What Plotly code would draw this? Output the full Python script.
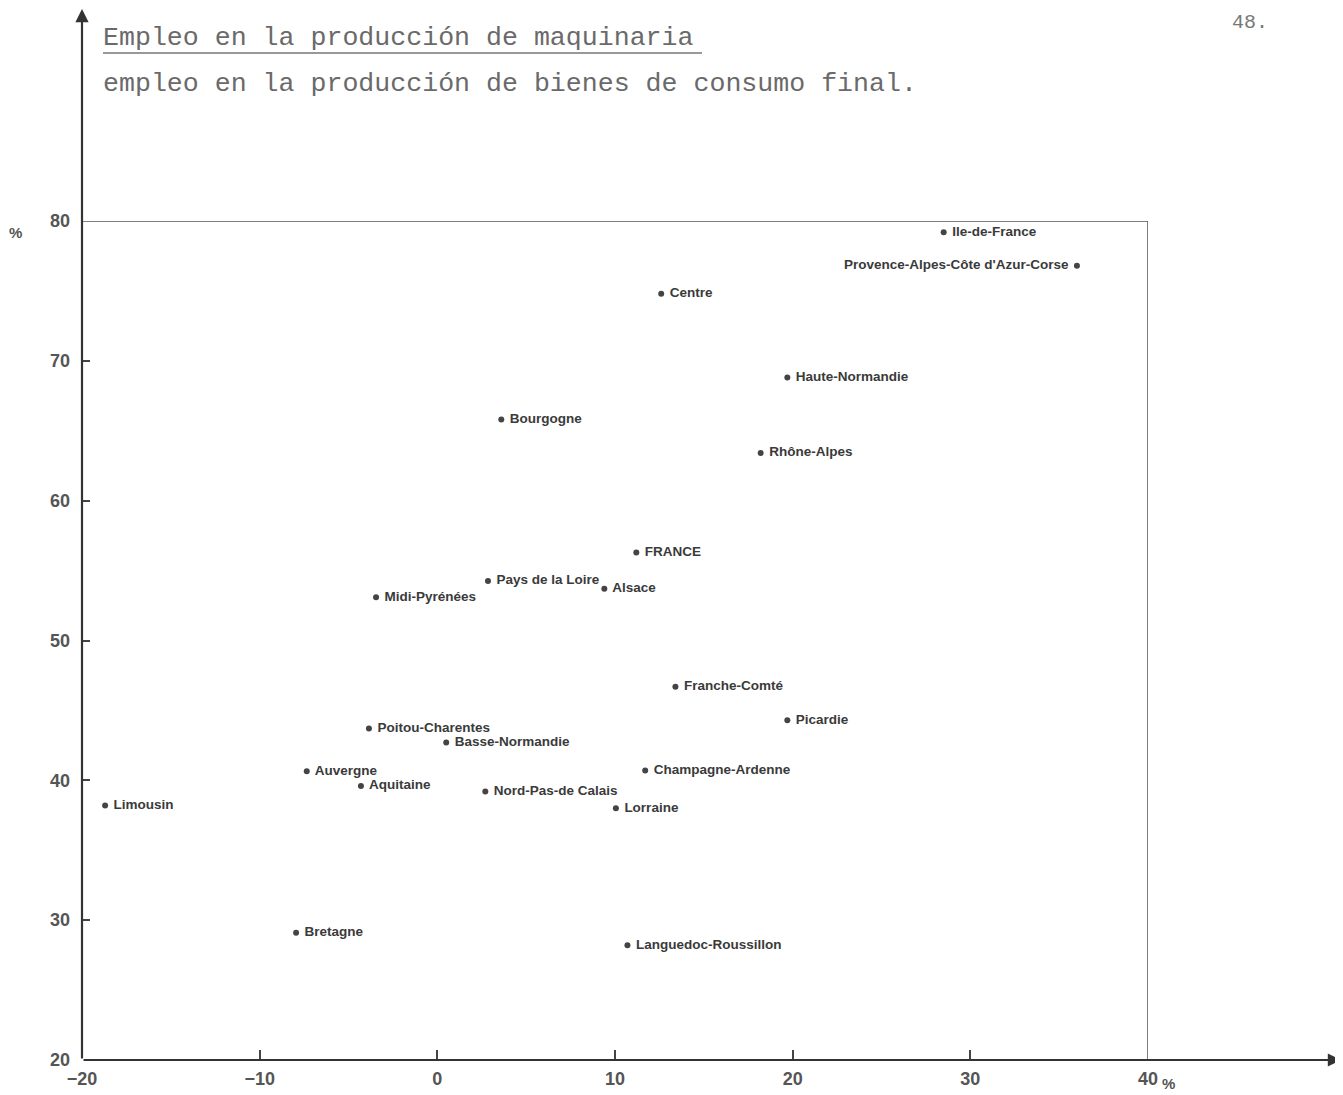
import plotly.graph_objects as go

# ---- data ----
regions = [
    "Ile-de-France", "Provence-Alpes-Côte d'Azur-Corse", "Centre", "Haute-Normandie",
    "Bourgogne", "Rhône-Alpes", "FRANCE", "Pays de la Loire", "Alsace", "Midi-Pyrénées",
    "Franche-Comté", "Picardie", "Poitou-Charentes", "Basse-Normandie", "Auvergne",
    "Champagne-Ardenne", "Aquitaine", "Limousin", "Nord-Pas-de Calais", "Lorraine",
    "Bretagne", "Languedoc-Roussillon",
]
x_vals = [28.5, 36.0, 12.6, 19.7, 3.6, 18.2, 11.2, 2.85, 9.4, -3.45,
          13.4, 19.7, -3.85, 0.5, -7.35, 11.7, -4.3, -18.7, 2.7, 10.05,
          -7.95, 10.7]
y_vals = [79.2, 76.8, 74.8, 68.8, 65.8, 63.4, 56.3, 54.25, 53.7, 53.1,
          46.7, 44.3, 43.7, 42.7, 40.65, 40.7, 39.6, 38.2, 39.2, 38.0,
          29.1, 28.2]

x_ticks = [-20, -10, 0, 10, 20, 30, 40]
x_tick_text = ["\u221220", "\u221210", "0", "10", "20", "30", "40"]
y_ticks = [20, 30, 40, 50, 60, 70, 80]

title1 = "Empleo en la producción de maquinaria"
title2 = "empleo en la producción de bienes de consumo final."
page_no = "48."

# ---- layout helpers (page pixel -> paper); page body has an 8px margin ----
OFF = 8
PAGE_W, PAGE_H = 1343, 1095
W, H = PAGE_W - OFF, PAGE_H - OFF
L, R, T, B = 82 - OFF, PAGE_W - 1148, 221 - OFF, PAGE_H - 1060
PW, PH = W - L - R, H - T - B


def px(xp):
    return (xp - 82) / PW


def py(yp):
    return (1060 - yp) / PH


positions = ["middle left" if r.startswith("Provence") else "middle right" for r in regions]
labels = [" " + r if p == "middle right" else r + " " for r, p in zip(regions, positions)]

fig = go.Figure()
fig.add_trace(go.Scatter(
    x=x_vals, y=y_vals, mode="markers+text",
    text=labels, textposition=positions,
    marker=dict(size=6, color="#444"),
    textfont=dict(family="Liberation Sans", size=13.5, color="#3a3a3a", weight="bold"),
    hoverinfo="text", showlegend=False, cliponaxis=False,
))

axis_font = dict(family="Liberation Sans", size=18, color="#555", weight="bold")

fig.update_layout(
    width=W, height=H,
    margin=dict(l=L, r=R, t=T, b=B, autoexpand=False),
    paper_bgcolor="white", plot_bgcolor="white",
    xaxis=dict(range=[-20, 40], tickvals=x_ticks, ticktext=x_tick_text,
               ticks="inside", ticklen=10, tickwidth=1.5, tickcolor="#444",
               showgrid=False, zeroline=False, showline=False, automargin=False,
               tickfont=axis_font, ticklabelstandoff=6),
    yaxis=dict(range=[20, 80], tickvals=y_ticks,
               ticks="inside", ticklen=8, tickwidth=1.5, tickcolor="#444",
               showgrid=False, zeroline=False, showline=False, automargin=False,
               tickfont=axis_font, ticklabelstandoff=11),
)

# frame (top and right)
fig.add_shape(type="line", xref="x", yref="y", x0=-20, x1=40, y0=80, y1=80,
              line=dict(color="#555", width=1.5))
fig.add_shape(type="line", xref="x", yref="y", x0=40, x1=40, y0=20, y1=80,
              line=dict(color="#555", width=1.5))

# axis arrows
fig.add_annotation(xref="paper", yref="paper", x=0, y=py(4), ax=0, ay=1060 - 4,
                   axref="pixel", ayref="pixel", text="", showarrow=True,
                   arrowhead=2, arrowsize=1.2, arrowwidth=2.2, arrowcolor="#333")
fig.add_annotation(xref="paper", yref="paper", x=px(1341), y=0, ax=-(1341 - 82), ay=0,
                   text="", showarrow=True,
                   arrowhead=2, arrowsize=1.2, arrowwidth=2.2, arrowcolor="#333")

mono = dict(family="Liberation Mono", size=26.6, color="#6a6a6a")
fig.add_annotation(xref="paper", yref="paper", x=px(101), y=py(38), xanchor="left",
                   yanchor="middle", text=title1, showarrow=False, font=mono)
fig.add_shape(type="line", xref="paper", yref="paper", x0=px(103), x1=px(702),
              y0=py(53), y1=py(53), line=dict(color="#777", width=1.5))
fig.add_annotation(xref="paper", yref="paper", x=px(101), y=py(84), xanchor="left",
                   yanchor="middle", text=title2, showarrow=False, font=mono)
fig.add_annotation(xref="paper", yref="paper", x=px(1250), y=py(22), xanchor="center",
                   yanchor="middle", text=page_no, showarrow=False,
                   font=dict(family="Liberation Mono", size=20, color="#777"))

# percent signs
fig.add_annotation(xref="paper", yref="paper", x=px(15), y=py(232), text="%",
                   xanchor="center", yanchor="middle",
                   showarrow=False, font=dict(family="Liberation Sans", size=15, color="#555",
                                              weight="bold"))
fig.add_annotation(xref="paper", yref="paper", x=px(1168), y=py(1083), text="%",
                   xanchor="center", yanchor="middle",
                   showarrow=False, font=dict(family="Liberation Sans", size=15, color="#555",
                                              weight="bold"))

fig.write_html("out.html")
